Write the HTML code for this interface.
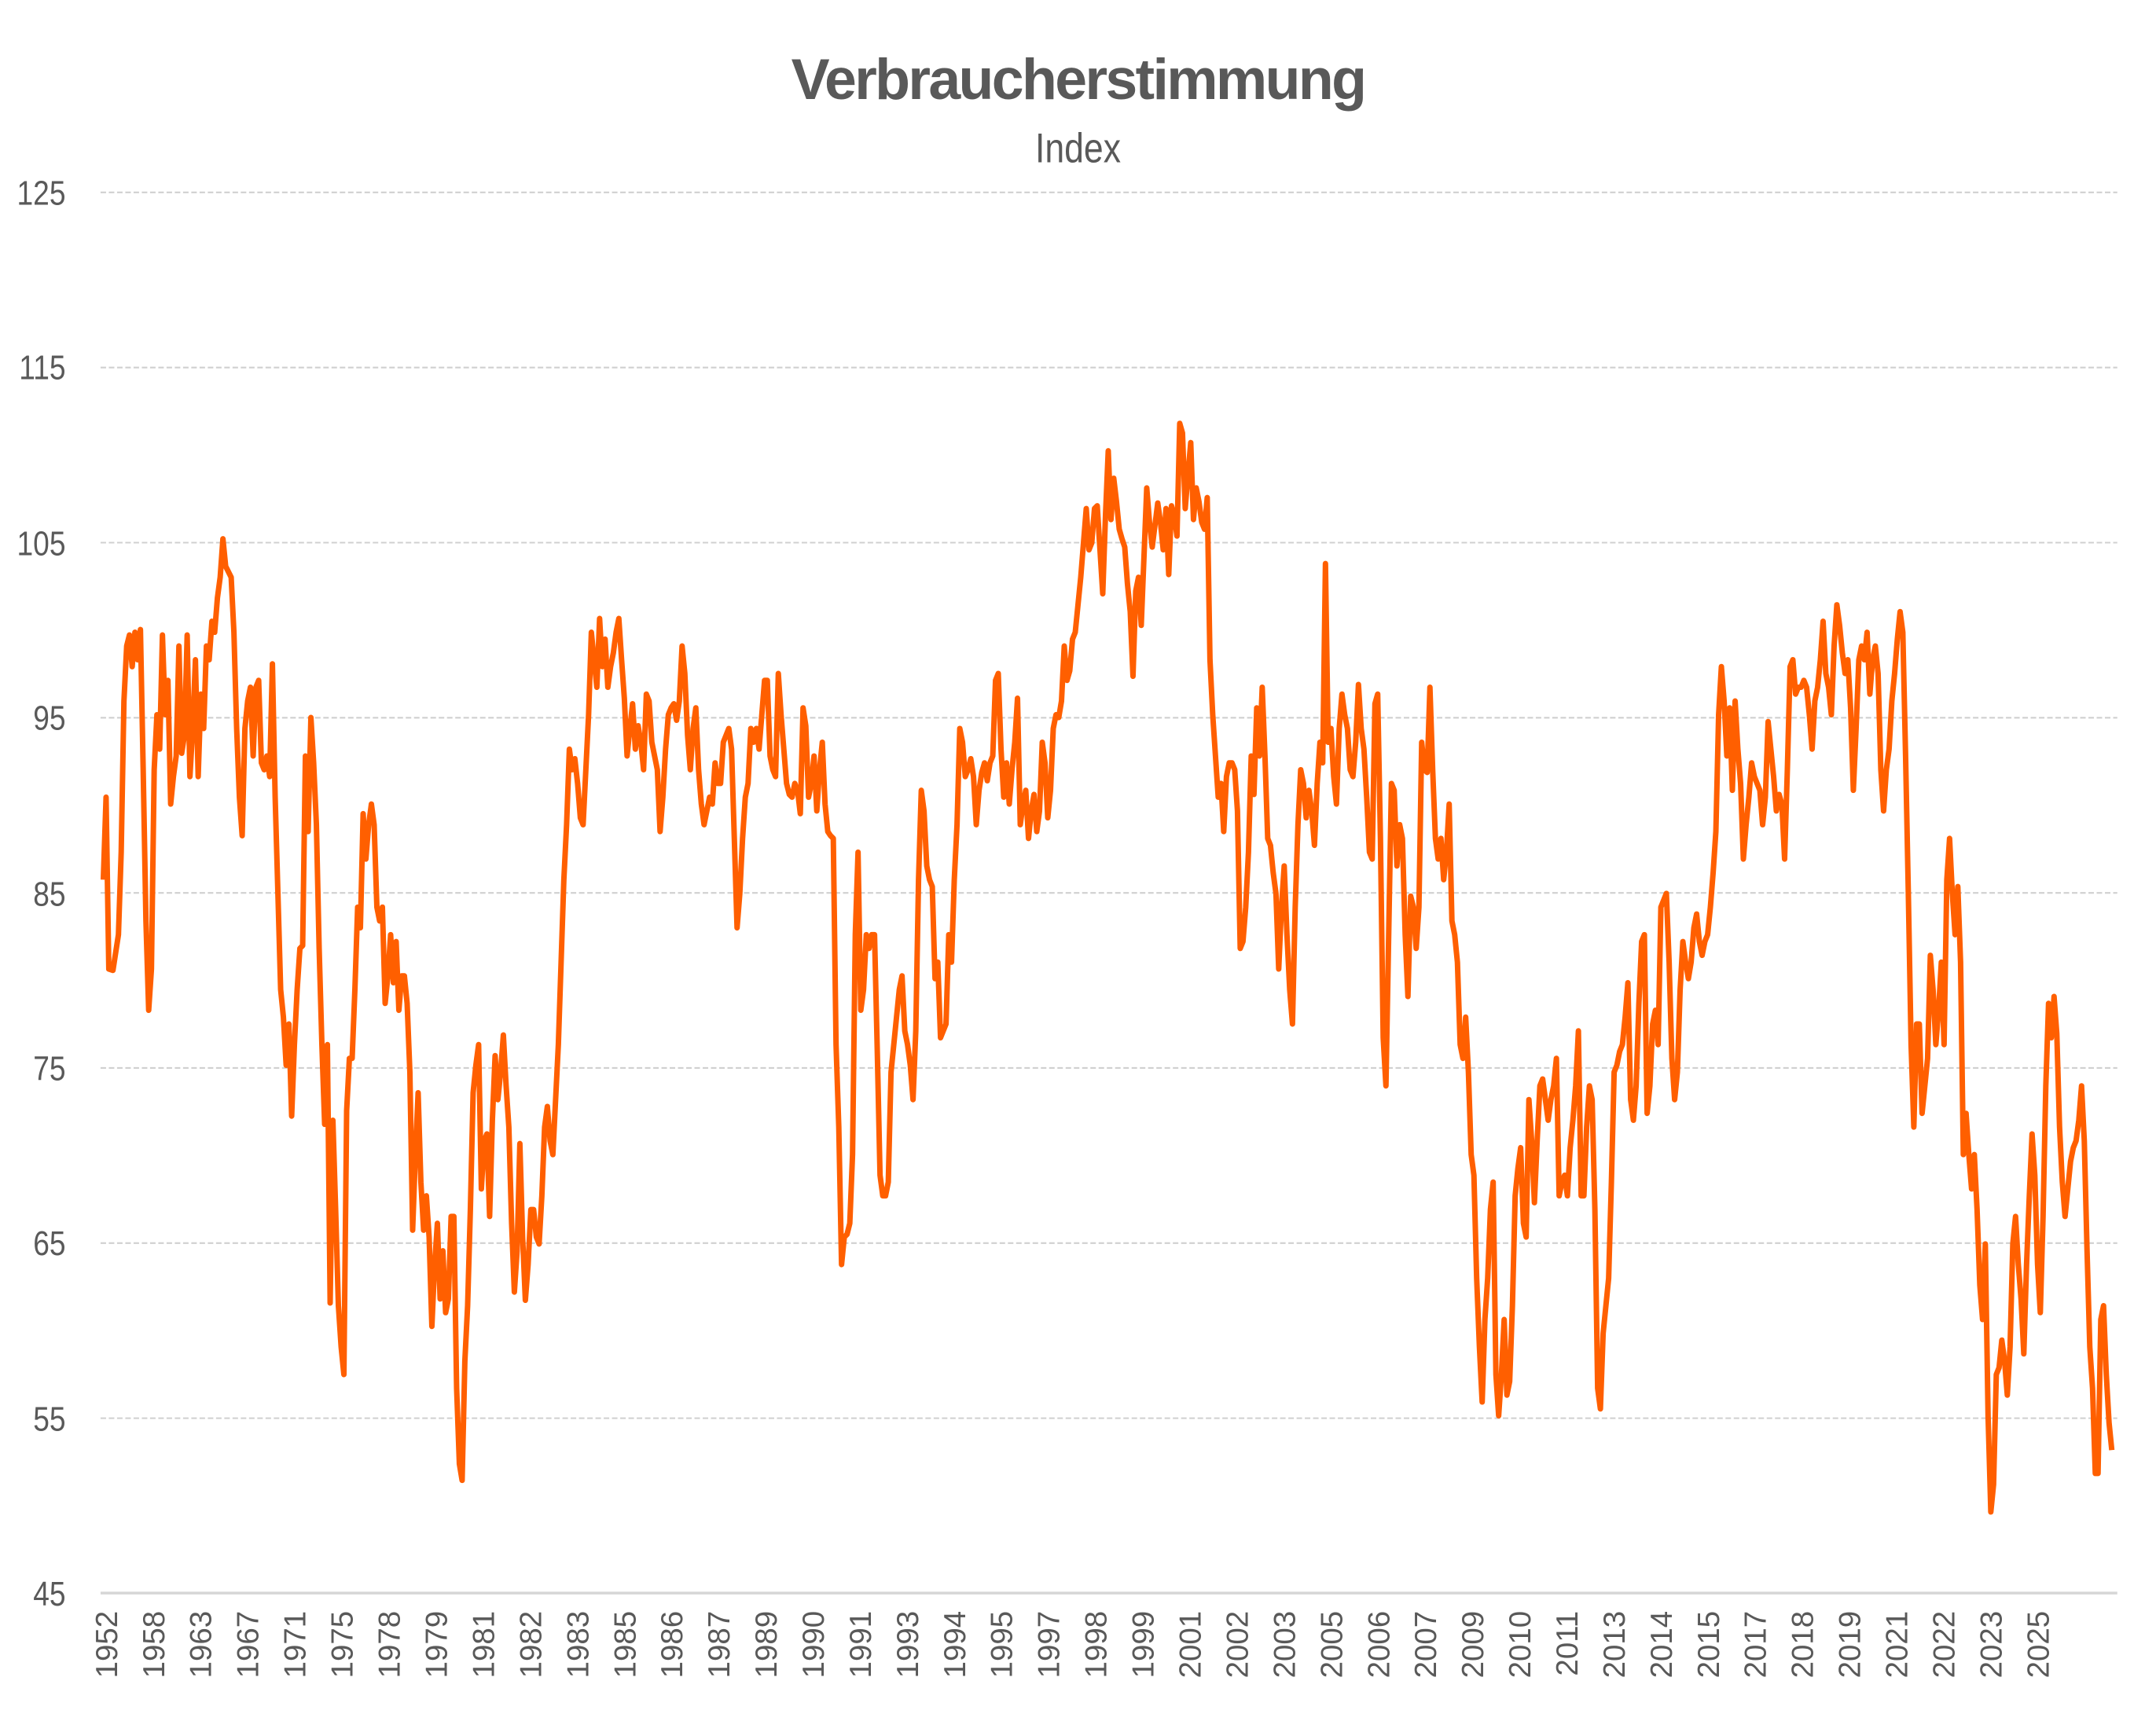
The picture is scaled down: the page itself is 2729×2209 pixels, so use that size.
<!DOCTYPE html>
<html><head><meta charset="utf-8"><style>
html,body{margin:0;padding:0;background:#fff;}
svg{display:block;}
text{font-family:"Liberation Sans",sans-serif;fill:#595959;}
</style></head><body>
<svg width="2729" height="2209" viewBox="0 0 1560 1263" xmlns="http://www.w3.org/2000/svg">
<rect width="1560" height="1263" fill="#fff"/>
<text x="784" y="72" font-size="42" font-weight="bold" text-anchor="middle" letter-spacing="-1.5">Verbraucherstimmung</text>
<text x="784" y="118" font-size="30" text-anchor="middle" transform="translate(784 0) scale(0.85 1) translate(-784 0)">Index</text>
<g stroke="#d0d0d0" stroke-width="1.2" stroke-dasharray="4 2">
<line x1="73" y1="140" x2="1540" y2="140"/><line x1="73" y1="267.4" x2="1540" y2="267.4"/>
<line x1="73" y1="394.8" x2="1540" y2="394.8"/><line x1="73" y1="522.2" x2="1540" y2="522.2"/>
<line x1="73" y1="649.6" x2="1540" y2="649.6"/><line x1="73" y1="777" x2="1540" y2="777"/>
<line x1="73" y1="904.4" x2="1540" y2="904.4"/><line x1="73" y1="1031.8" x2="1540" y2="1031.8"/>
</g>
<line x1="73" y1="1159" x2="1540" y2="1159" stroke="#d6d6d6" stroke-width="2"/>
<g font-size="25" text-anchor="end" transform="scale(0.85 1)">
<text x="56" y="149">125</text><text x="56" y="276">115</text><text x="56" y="404">105</text>
<text x="56" y="531">95</text><text x="56" y="659">85</text><text x="56" y="786">75</text>
<text x="56" y="913">65</text><text x="56" y="1041">55</text><text x="56" y="1168">45</text>
</g>
<polyline fill="none" stroke="#ff5f00" stroke-width="4" stroke-linejoin="round" points="75,640 77,580 79,705 82,706 86,680 88,620 90,510 92,470 94,462 96,485 98,460 100,480 102,458 104,560 106,670 108,735 110,705 112,560 114,520 116,545 118,462 120,520 122,495 124,585 126,565 128,550 130,470 132,548 134,535 136,462 138,565 140,530 142,480 144,565 146,505 148,530 150,470 152,480 154,452 156,460 158,435 160,420 162,392 164,412 168,420 170,460 172,530 174,580 176,608 178,530 180,510 182,500 184,550 186,500 188,495 190,555 192,560 194,550 196,565 198,483 200,580 202,650 204,720 206,740 208,775 210,745 212,812 214,760 216,720 218,690 220,688 222,550 224,605 226,522 228,555 230,600 232,690 234,760 236,818 238,760 240,948 242,815 244,880 246,950 248,980 250,1000 252,808 254,770 256,770 258,720 260,660 262,675 264,592 266,625 268,600 270,585 272,600 274,660 276,670 278,660 280,730 282,710 284,680 286,715 288,685 290,735 292,710 294,710 296,730 298,780 300,895 302,840 304,795 306,860 308,895 310,870 312,900 314,965 316,920 318,890 320,945 322,910 324,955 326,945 328,885 330,885 332,1010 334,1065 336,1077 338,990 340,950 342,880 344,795 346,775 348,760 350,865 352,830 354,825 356,885 358,815 360,768 362,800 364,780 366,753 368,790 370,820 372,890 374,940 376,910 378,832 380,900 382,946 384,920 386,880 388,880 390,900 392,905 394,870 396,820 398,805 400,830 402,840 404,800 406,760 408,700 410,640 412,600 414,545 416,560 418,552 420,570 422,595 424,600 426,560 428,520 430,460 432,480 434,500 436,450 438,485 440,465 442,500 444,485 446,475 448,460 450,450 452,480 454,508 456,550 458,530 460,512 462,545 464,528 466,540 468,560 470,505 472,510 474,540 476,550 478,560 480,605 482,580 484,545 486,520 488,515 490,512 492,524 494,510 496,470 498,490 500,535 502,560 504,530 506,515 508,560 510,585 512,600 514,590 516,580 518,585 520,555 522,570 524,570 526,540 528,535 530,530 532,545 534,610 536,675 538,650 540,610 542,580 544,570 546,530 548,540 550,530 552,545 554,520 556,495 558,495 560,550 562,560 564,565 566,490 568,520 570,545 572,570 574,578 576,580 578,570 580,575 582,592 584,515 586,528 588,580 590,570 592,550 594,590 596,560 598,540 600,585 602,605 604,608 606,610 608,760 610,820 612,920 614,900 616,898 618,890 620,840 622,680 624,620 626,735 628,720 630,680 632,690 634,680 636,680 638,765 640,855 642,870 644,870 646,860 648,780 650,760 652,740 654,720 656,710 658,750 660,760 662,775 664,800 666,750 668,640 670,575 672,590 674,630 676,640 678,645 680,712 682,700 684,755 686,750 688,745 690,680 692,700 694,640 696,600 698,530 700,540 702,565 704,560 706,552 708,565 710,600 712,575 714,562 716,555 718,568 720,555 722,550 724,495 726,490 728,545 730,580 732,555 734,585 736,560 738,540 740,508 742,600 744,585 746,575 748,610 750,590 752,578 754,605 756,590 758,540 760,555 762,595 764,575 766,530 768,520 770,522 772,510 774,470 776,495 778,488 780,465 782,460 784,440 786,420 788,395 790,370 792,400 794,395 796,370 798,368 800,400 802,432 804,375 806,328 808,378 810,348 812,365 814,385 816,392 818,398 820,425 822,445 824,492 826,430 828,420 830,455 832,405 834,355 836,380 838,398 840,382 842,366 844,380 846,400 848,370 850,418 852,368 854,375 856,390 858,308 860,315 862,370 864,345 866,322 868,378 870,355 872,365 874,380 876,385 878,362 880,480 882,520 884,550 886,580 888,570 890,605 892,565 894,555 896,555 898,560 900,590 902,690 904,685 906,660 908,620 910,550 912,578 914,515 916,550 918,500 920,550 922,610 924,615 926,635 928,650 930,705 932,660 934,630 936,680 938,720 940,745 942,660 944,600 946,560 948,570 950,595 952,575 954,590 956,615 958,570 960,540 962,555 964,410 966,540 968,530 970,565 972,585 974,530 976,505 978,520 980,530 982,560 984,565 986,540 988,498 990,530 992,545 994,580 996,620 998,625 1000,512 1002,505 1004,610 1006,755 1008,790 1010,680 1012,570 1014,575 1016,630 1018,600 1020,610 1022,680 1024,725 1026,652 1028,660 1030,690 1032,660 1034,540 1036,560 1038,562 1040,500 1042,560 1044,610 1046,625 1048,610 1050,640 1052,620 1054,585 1056,670 1058,680 1060,700 1062,760 1064,770 1066,740 1068,780 1070,840 1072,855 1074,930 1076,980 1078,1020 1080,960 1082,930 1084,880 1086,860 1088,1000 1090,1030 1092,1000 1094,960 1096,1015 1098,1005 1100,950 1102,870 1104,850 1106,835 1108,890 1110,900 1112,800 1114,830 1116,875 1118,830 1120,790 1122,785 1124,800 1126,815 1128,800 1130,790 1132,770 1134,870 1136,860 1138,855 1140,870 1142,835 1144,815 1146,790 1148,750 1150,870 1152,870 1154,820 1156,790 1158,800 1160,880 1162,1010 1164,1025 1166,970 1168,950 1170,930 1172,860 1174,780 1176,775 1178,765 1180,760 1182,740 1184,715 1186,800 1188,815 1190,790 1192,730 1194,685 1196,680 1198,810 1200,790 1202,745 1204,735 1206,760 1208,660 1210,655 1212,650 1214,700 1216,770 1218,800 1220,780 1222,720 1224,685 1226,700 1228,712 1230,700 1232,675 1234,665 1236,685 1238,695 1240,685 1242,680 1244,660 1246,635 1248,605 1250,520 1252,485 1254,510 1256,550 1258,515 1260,575 1262,510 1264,545 1266,570 1268,625 1270,600 1272,580 1274,555 1276,565 1278,570 1280,575 1282,600 1284,580 1286,525 1288,545 1290,565 1292,590 1294,578 1296,585 1298,625 1300,560 1302,485 1304,480 1306,505 1308,500 1310,500 1312,495 1314,500 1316,520 1318,545 1320,510 1322,500 1324,480 1326,452 1328,490 1330,500 1332,520 1334,470 1336,440 1338,455 1340,475 1342,490 1344,480 1346,515 1348,575 1350,530 1352,480 1354,470 1356,480 1358,460 1360,505 1362,480 1364,470 1366,490 1368,560 1370,590 1372,560 1374,545 1376,510 1378,490 1380,465 1382,445 1384,460 1386,550 1388,650 1390,760 1392,820 1394,745 1396,745 1398,810 1400,790 1402,770 1404,695 1406,720 1408,760 1410,735 1412,700 1414,760 1416,640 1418,610 1420,650 1422,680 1424,645 1426,700 1428,840 1430,810 1432,840 1434,865 1436,840 1438,880 1440,935 1442,960 1444,905 1446,1030 1448,1100 1450,1080 1452,1000 1454,995 1456,975 1458,990 1460,1015 1462,980 1464,905 1466,885 1468,920 1470,945 1472,985 1474,920 1476,870 1478,825 1480,855 1482,920 1484,955 1486,885 1488,790 1490,730 1492,755 1494,725 1496,752 1498,820 1500,860 1502,885 1504,865 1506,845 1508,835 1510,830 1512,815 1514,790 1516,830 1518,910 1520,980 1522,1010 1524,1072 1526,1072 1528,960 1530,950 1532,1000 1534,1035 1536,1055"/>
<g font-size="22" text-anchor="end">
<text transform="translate(85 1172) rotate(-90)">1952</text>
<text transform="translate(119.3 1172) rotate(-90)">1958</text>
<text transform="translate(153.5 1172) rotate(-90)">1963</text>
<text transform="translate(187.8 1172) rotate(-90)">1967</text>
<text transform="translate(222.1 1172) rotate(-90)">1971</text>
<text transform="translate(256.4 1172) rotate(-90)">1975</text>
<text transform="translate(290.6 1172) rotate(-90)">1978</text>
<text transform="translate(324.9 1172) rotate(-90)">1979</text>
<text transform="translate(359.2 1172) rotate(-90)">1981</text>
<text transform="translate(393.4 1172) rotate(-90)">1982</text>
<text transform="translate(427.7 1172) rotate(-90)">1983</text>
<text transform="translate(462 1172) rotate(-90)">1985</text>
<text transform="translate(496.2 1172) rotate(-90)">1986</text>
<text transform="translate(530.5 1172) rotate(-90)">1987</text>
<text transform="translate(564.8 1172) rotate(-90)">1989</text>
<text transform="translate(599 1172) rotate(-90)">1990</text>
<text transform="translate(633.3 1172) rotate(-90)">1991</text>
<text transform="translate(667.6 1172) rotate(-90)">1993</text>
<text transform="translate(701.9 1172) rotate(-90)">1994</text>
<text transform="translate(736.1 1172) rotate(-90)">1995</text>
<text transform="translate(770.4 1172) rotate(-90)">1997</text>
<text transform="translate(804.7 1172) rotate(-90)">1998</text>
<text transform="translate(838.9 1172) rotate(-90)">1999</text>
<text transform="translate(873.2 1172) rotate(-90)">2001</text>
<text transform="translate(907.5 1172) rotate(-90)">2002</text>
<text transform="translate(941.7 1172) rotate(-90)">2003</text>
<text transform="translate(976 1172) rotate(-90)">2005</text>
<text transform="translate(1010.3 1172) rotate(-90)">2006</text>
<text transform="translate(1044.5 1172) rotate(-90)">2007</text>
<text transform="translate(1078.8 1172) rotate(-90)">2009</text>
<text transform="translate(1113.1 1172) rotate(-90)">2010</text>
<text transform="translate(1147.4 1172) rotate(-90)">2011</text>
<text transform="translate(1181.6 1172) rotate(-90)">2013</text>
<text transform="translate(1215.9 1172) rotate(-90)">2014</text>
<text transform="translate(1250.2 1172) rotate(-90)">2015</text>
<text transform="translate(1284.4 1172) rotate(-90)">2017</text>
<text transform="translate(1318.7 1172) rotate(-90)">2018</text>
<text transform="translate(1353 1172) rotate(-90)">2019</text>
<text transform="translate(1387.2 1172) rotate(-90)">2021</text>
<text transform="translate(1421.5 1172) rotate(-90)">2022</text>
<text transform="translate(1455.8 1172) rotate(-90)">2023</text>
<text transform="translate(1490 1172) rotate(-90)">2025</text>
</g>
</svg>
</body></html>
